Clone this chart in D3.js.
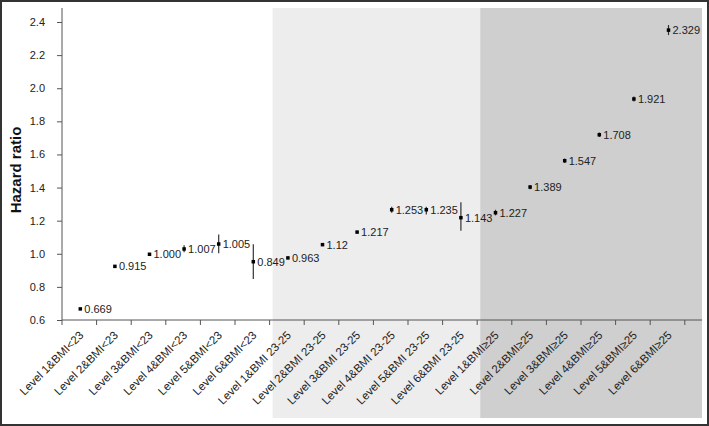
<!DOCTYPE html>
<meta charset="utf-8">
<script src="https://cdn.jsdelivr.net/npm/d3@7"></script>
<style>
body { margin: 0; background: #fff; }
text { font-family: "Liberation Sans", Arial, sans-serif; }
</style>
<body>
<div id="chart"></div>
<script>
var categories = ["Level 1&BMI<23", "Level 2&BMI<23", "Level 3&BMI<23", "Level 4&BMI<23", "Level 5&BMI<23", "Level 6&BMI<23",
  "Level 1&BMI 23-25", "Level 2&BMI 23-25", "Level 3&BMI 23-25", "Level 4&BMI 23-25", "Level 5&BMI 23-25", "Level 6&BMI 23-25",
  "Level 1&BMI\u226525", "Level 2&BMI\u226525", "Level 3&BMI\u226525", "Level 4&BMI\u226525", "Level 5&BMI\u226525", "Level 6&BMI\u226525"]
// plotted position of each point
var hr = [0.667, 0.924, 0.997, 1.029, 1.059, 0.952, 0.975, 1.055, 1.131, 1.266, 1.266, 1.218, 1.248, 1.403, 1.562, 1.719, 1.935, 2.351]
var lower = [0.662, 0.919, 0.991, 1.009, 1.003, 0.848, 0.969, 1.049, 1.125, 1.248, 1.238, 1.139, 1.232, 1.390, 1.548, 1.706, 1.920, 2.321]
var upper = [0.672, 0.929, 1.003, 1.051, 1.117, 1.057, 0.981, 1.061, 1.137, 1.284, 1.284, 1.311, 1.266, 1.416, 1.576, 1.732, 1.950, 2.382]
// annotation text printed next to each point
var labels = ["0.669", "0.915", "1.000", "1.007", "1.005", "0.849", "0.963", "1.12", "1.217", "1.253", "1.235", "1.143",
  "1.227", "1.389", "1.547", "1.708", "1.921", "2.329"]
var yTicks = [0.6, 0.8, 1.0, 1.2, 1.4, 1.6, 1.8, 2.0, 2.2, 2.4]
var groups = [{start: 6, end: 12, fill: "#ededed"}, {start: 12, end: 18, fill: "#cfcfcf"}]

var W = 709, H = 426
var left = 62, axisY = 320, band = 34.6, right = 702, plotTop = 8, plotBottom = 418

svg = d3.select("#chart").append("svg")
  .attr("width", W).attr("height", H)

xScale = d3.scaleBand()
  .domain(categories)
  .range([left, left + band * categories.length])

yScale = d3.scaleLinear()
  .domain([0.6, 2.4])
  .range([axisY, 22])

// shaded backgrounds
svg.selectAll("rect.bg")
  .data(groups)
  .enter()
  .append("rect")
  .attr("class", "bg")
  .attr("x", function(d){ return xScale(categories[d.start]) + 3 })
  .attr("y", plotTop)
  .attr("width", function(d){
    var x0 = xScale(categories[d.start]) + 3
    var x1 = d.end >= categories.length ? right : xScale(categories[d.end]) + 3
    return x1 - x0 })
  .attr("height", plotBottom - plotTop)
  .attr("fill", function(d){ return d.fill })

// y axis
yAxis = d3.axisLeft(yScale)
  .tickValues(yTicks)
  .tickFormat(d3.format(".1f"))
  .tickSize(5)
  .tickSizeOuter(0)

yG = svg.append("g")
  .attr("transform", "translate(" + left + ",0)")
  .call(yAxis)
yG.select("path.domain").remove()
yG.append("line")
  .attr("x1", 0).attr("x2", 0)
  .attr("y1", plotTop).attr("y2", axisY)
  .attr("stroke", "#555")
yG.selectAll(".tick line").attr("stroke", "#555")
yG.selectAll(".tick text")
  .attr("x", -17)
  .attr("fill", "#222")
  .style("font-size", "11px")
  .style("font-family", "'Liberation Sans', Arial, sans-serif")

// x axis
xG = svg.append("g")
  .attr("transform", "translate(0," + axisY + ")")
xG.append("line")
  .attr("x1", left).attr("x2", right)
  .attr("y1", 0).attr("y2", 0)
  .attr("stroke", "#555")
xG.selectAll("line.tick")
  .data(d3.range(categories.length + 1))
  .enter()
  .append("line")
  .attr("class", "tick")
  .attr("x1", function(i){ return left + i * xScale.step() })
  .attr("x2", function(i){ return left + i * xScale.step() })
  .attr("y1", 0).attr("y2", 5)
  .attr("stroke", "#555")

xG.selectAll("text.xlab")
  .data(categories)
  .enter()
  .append("text")
  .attr("class", "xlab")
  .attr("text-anchor", "end")
  .attr("transform", function(d){
    var x = xScale(d) + xScale.bandwidth() / 2 + 5
    return "translate(" + x + ",16) rotate(-45)" })
  .attr("fill", "#222")
  .style("font-size", "11.5px")
  .text(function(d){ return d })

// y title
svg.append("text")
  .attr("transform", "translate(21,170) rotate(-90)")
  .attr("text-anchor", "middle")
  .style("font-size", "15px")
  .style("font-weight", "bold")
  .attr("fill", "#111")
  .text("Hazard ratio")

// error bars and points
idx = d3.range(categories.length)
cx = function(i){ return xScale(categories[i]) + xScale.bandwidth() / 2 + 1 }

svg.selectAll("line.err")
  .data(idx)
  .enter()
  .append("line")
  .attr("class", "err")
  .attr("x1", cx).attr("x2", cx)
  .attr("y1", function(i){ return yScale(lower[i]) })
  .attr("y2", function(i){ return yScale(upper[i]) })
  .attr("stroke", "#333")
  .attr("stroke-width", 1.2)

svg.selectAll("rect.pt")
  .data(idx)
  .enter()
  .append("rect")
  .attr("class", "pt")
  .attr("x", function(i){ return cx(i) - 1.75 })
  .attr("y", function(i){ return yScale(hr[i]) - 1.75 })
  .attr("width", 3.5).attr("height", 3.5)
  .attr("fill", "#000")

svg.selectAll("text.val")
  .data(idx)
  .enter()
  .append("text")
  .attr("class", "val")
  .attr("x", function(i){ return cx(i) + 4 })
  .attr("y", function(i){ return yScale(hr[i]) })
  .attr("dy", "0.35em")
  .attr("fill", "#222")
  .style("font-size", "11px")
  .text(function(i){ return labels[i] })

// outer frame
svg.append("rect")
  .attr("x", 1).attr("y", 1)
  .attr("width", W - 2).attr("height", H - 2)
  .attr("fill", "none")
  .attr("stroke", "#333")
  .attr("stroke-width", 2)
</script>
</body>
